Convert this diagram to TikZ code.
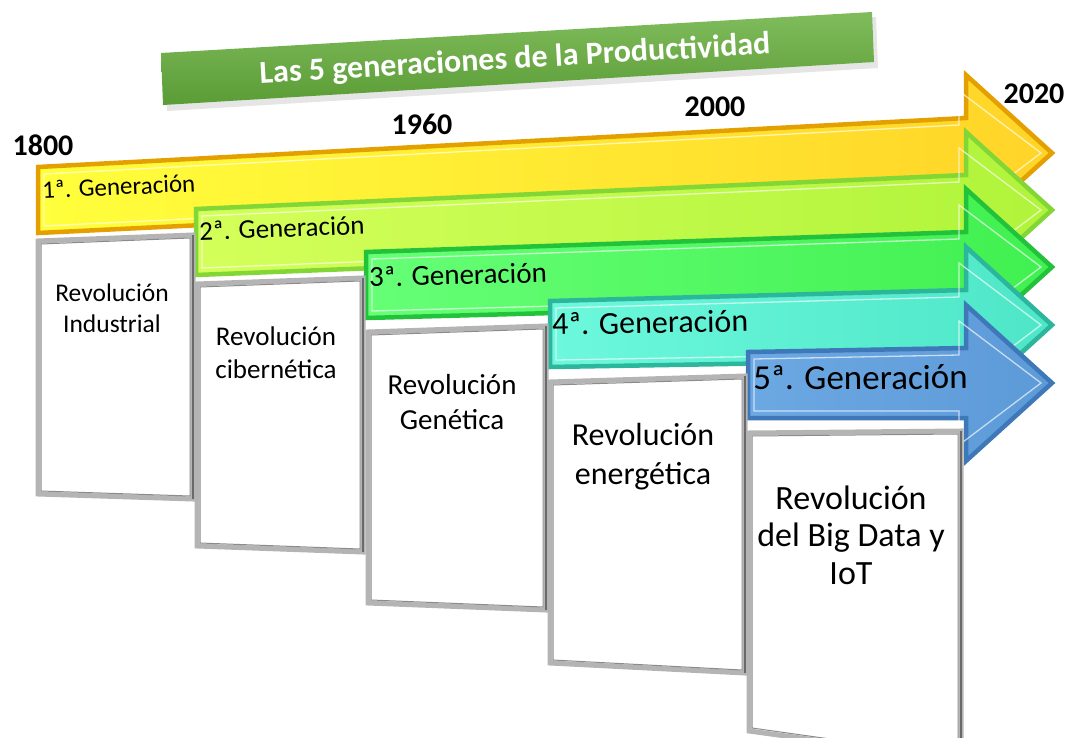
\documentclass[tikz,border=0pt]{standalone}
\usepackage{fontspec}
\setmainfont{Carlito}
\definecolor{aoneL}{HTML}{FFFF3C}\definecolor{aoneR}{HTML}{FFD428}\definecolor{aoneE}{HTML}{E3A000}
\definecolor{atwoL}{HTML}{D4FF5A}\definecolor{atwoR}{HTML}{B0F43A}\definecolor{atwoE}{HTML}{82D636}
\definecolor{athrL}{HTML}{66FF76}\definecolor{athrR}{HTML}{40F050}\definecolor{athrE}{HTML}{22C23A}
\definecolor{afouL}{HTML}{6CF8DC}\definecolor{afouR}{HTML}{4EE6C8}\definecolor{afouE}{HTML}{2CB69C}
\definecolor{afivL}{HTML}{6CA8E2}\definecolor{afivR}{HTML}{5C9AD8}\definecolor{afivE}{HTML}{3F78B8}
\definecolor{ttlT}{HTML}{80BC5C}\definecolor{ttlB}{HTML}{5A9C36}
\definecolor{boxgray}{HTML}{B4B4B4}\definecolor{boxdark}{HTML}{6A6A6A}\definecolor{boxmid}{HTML}{8C8C8C}
\newcommand\genarrow[6]{%
  \path[left color=#4, right color=#5, draw=#6, line width=4.5pt, line join=miter]
    (#1,#2-33) -- (966,#3-35) -- (966,#3-78) -- (1052,#3) -- (966,#3+78) -- (966,#3+35) -- (#1,#2+33) -- cycle;
  \draw[white, opacity=0.65, line width=1.3pt, line join=miter]
    (#1+6,#2-26) -- (959,#3-28) -- (959,#3-62) -- (1041,#3) -- (959,#3+62) -- (959,#3+28) -- (#1+6,#2+26) -- cycle;
}
\newcommand\revpanel[8]{%
  \path[fill=white, draw=boxgray, line width=5pt, line join=miter]
    (#1,#2) -- (#3,#4) -- (#5,#6) -- (#7,#8) -- cycle;
  \draw[boxmid, line width=1pt, line join=miter]
    (#1+3,#2+3) -- (#3-3,#4+3) -- (#5-3,#6-3) -- (#7+3,#8-3) -- cycle;
  \draw[boxdark, line width=2.5pt] (#3,#4) -- (#5,#6);
}
\tikzset{
  yearlbl/.style={font=\fontsize{30}{33}\selectfont\bfseries, text=black, inner sep=0pt},
  genlbl/.style={anchor=west, inner sep=0pt, text=black},
  revtxt/.style={align=center, inner sep=0pt, text=black},
}
\begin{document}
\begin{tikzpicture}[x=1pt,y=-1pt]
\useasboundingbox (0,0) rectangle (1068,738);
\clip (0,0) rectangle (1068,738);
% title banner
\fill[black, opacity=0.10] (165,58) -- (876,17) -- (878,68) -- (167,111) -- cycle;
\path[top color=ttlT, bottom color=ttlB] (161,53) -- (872,12) -- (874,62) -- (163,105) -- cycle;
\node[rotate=3.3, text=white, inner sep=0pt, font=\fontsize{32}{35}\selectfont\bfseries] (title) at (515,60) {Las 5 generaciones de la Productividad};
% years
\node[yearlbl] (y1800) at (43,145) {1800};
\node[yearlbl] (y1960) at (422,124) {1960};
\node[yearlbl] (y2000) at (715,107) {2000};
\node[yearlbl] (y2020) at (1034,94) {2020};
% arrows
\genarrow{38}{200}{153}{aoneL}{aoneR}{aoneE}
\genarrow{196}{242}{210}{atwoL}{atwoR}{atwoE}
\genarrow{366}{285}{267}{athrL}{athrR}{athrE}
\genarrow{550}{334}{325}{afouL}{afouR}{afouE}
\genarrow{748}{385}{383}{afivL}{afivR}{afivE}
% arrow labels
\node[genlbl, rotate=2.6, font=\fontsize{25}{28}\selectfont] (g1) at (42,190) {1ª. Generación};
\node[genlbl, rotate=2.1, font=\fontsize{27}{30}\selectfont] (g2) at (199,231) {2ª. Generación};
\node[genlbl, rotate=1.5, font=\fontsize{29}{32}\selectfont] (g3) at (369,277) {3ª. Generación};
\node[genlbl, rotate=1.0, font=\fontsize{32}{35}\selectfont] (g4) at (552,324) {4ª. Generación};
\node[genlbl, rotate=0.3, font=\fontsize{35}{38}\selectfont] (g5) at (753,378) {5ª. Generación};
% boxes
\revpanel{38}{241}{193}{235}{193}{499}{38}{494}
\revpanel{197}{284}{363}{278}{363}{552}{197}{546}
\revpanel{368}{332}{546}{326}{546}{610}{368}{603}
\revpanel{550}{382}{745}{376}{745}{673}{550}{663}
\revpanel{749}{433}{961}{431}{961}{760}{749}{731}
% box texts
\node[revtxt, font=\fontsize{25.5}{31}\selectfont] (r1) at (112,308) {Revolución\\Industrial};
\node[revtxt, font=\fontsize{27}{33}\selectfont] (r2) at (276,353) {Revolución\\cibernética};
\node[revtxt, font=\fontsize{29}{35}\selectfont] (r3) at (452,402) {Revolución\\Genética};
\node[revtxt, font=\fontsize{32}{39}\selectfont] (r4) at (643,457) {Revolución\\energética};
\node[revtxt, font=\fontsize{34}{37.5}\selectfont] (r5) at (851,535) {Revolución\\del Big Data y\\IoT};
\end{tikzpicture}
\end{document}
